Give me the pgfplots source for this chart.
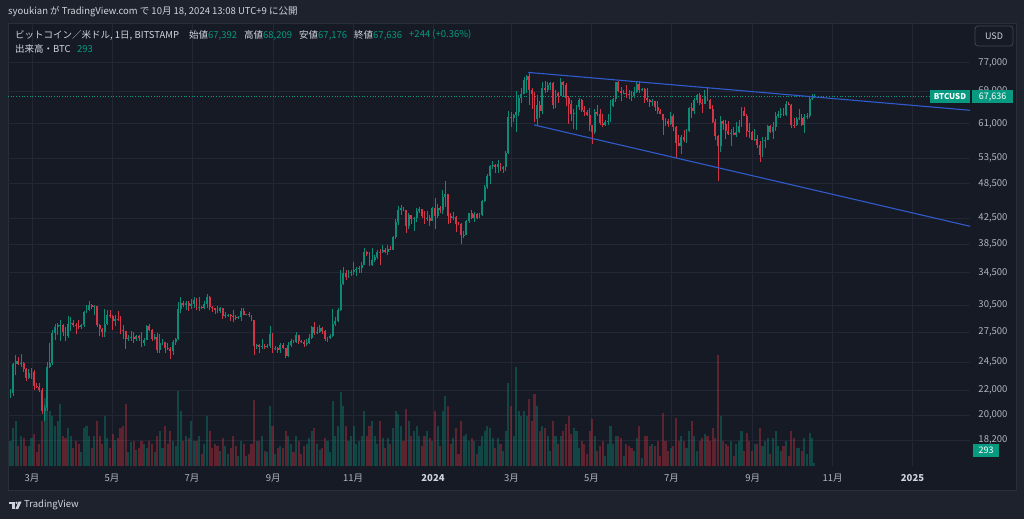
\documentclass[border=0pt]{standalone}
\usepackage{pgfplots}
\pgfplotsset{compat=1.18}
\usepackage{pgfplotstable}
\usepackage{fontspec}
\setmainfont{Noto Sans CJK JP}

\definecolor{bgout}{HTML}{1E222D}
\definecolor{bgpane}{HTML}{161A25}
\definecolor{gridc}{HTML}{232735}
\definecolor{framec}{HTML}{2A2E39}
\definecolor{txt}{HTML}{D1D4DC}
\definecolor{tickc}{HTML}{B2B5BE}
\definecolor{upc}{HTML}{089981}
\definecolor{dnc}{HTML}{F23645}
\definecolor{candup}{HTML}{0C8C77}
\definecolor{canddn}{HTML}{D23448}
\definecolor{trend}{HTML}{2F5BCC}

% BTCUSD, 2-day candles (day 0 = 2023-01-01), prices in kUSD, volume in BTC
\pgfplotstableread{
d o h l c v
42 21.7 22.1 21.4 21.8 2500
44 21.8 24.4 21.5 24.3 3800
46 24.3 25.2 23.3 24.6 4500
48 24.6 25.0 24.2 24.3 2000
50 24.3 25.3 24.1 24.4 3000
52 24.4 24.5 23.6 23.9 2800
54 23.9 24.0 22.8 23.1 2000
56 23.1 23.9 23.0 23.5 2000
58 23.5 24.0 23.0 23.6 2800
60 23.6 23.8 22.0 22.4 3200
62 22.4 22.6 22.2 22.3 1400
64 22.3 22.6 21.9 22.0 2200
66 22.0 22.2 20.1 20.3 4500
68 20.3 20.8 19.6 20.6 6800
70 20.6 24.5 20.3 24.1 6000
72 24.1 26.4 24.0 24.4 5500
74 24.4 27.7 24.2 27.4 5000
76 27.4 28.4 26.7 28.0 4000
78 28.0 28.5 27.2 28.2 4500
80 28.2 28.8 26.6 28.3 6200
82 28.3 28.4 27.1 27.5 3000
84 27.5 28.0 26.6 27.1 2800
86 27.1 29.2 26.9 28.4 3800
88 28.4 29.1 27.6 28.5 3000
90 28.5 28.8 28.0 28.2 1800
92 28.2 28.5 27.3 28.1 2500
94 28.1 28.8 27.8 28.0 2200
96 28.0 28.4 27.8 28.3 1400
98 28.3 29.8 28.0 29.7 3800
100 29.7 30.5 29.6 29.9 4000
102 29.9 31.0 29.8 30.5 3000
104 30.5 30.6 30.0 30.3 1800
106 30.3 30.5 29.3 30.4 3000
108 30.4 30.4 28.0 28.2 4500
110 28.2 28.4 27.1 27.8 3000
112 27.8 27.9 27.0 27.5 2200
114 27.5 30.0 27.0 28.4 5000
116 28.4 29.9 28.3 29.3 2800
118 29.3 29.9 29.0 29.2 1800
120 29.2 29.3 27.7 28.7 3200
122 28.7 29.3 28.1 28.9 2600
124 28.9 29.8 28.7 28.8 2800
126 28.8 29.2 27.3 27.7 3800
128 27.7 28.3 26.8 27.6 4000
130 27.6 27.6 25.8 26.8 6200
132 26.8 27.2 26.6 26.9 1400
134 26.9 27.6 26.6 27.0 2400
136 27.0 27.5 26.4 26.8 2500
138 26.8 27.2 26.6 27.1 1600
140 27.1 27.2 26.6 26.9 1800
142 26.9 27.5 26.0 26.4 2500
144 26.4 26.9 26.1 26.7 2200
146 26.7 28.2 26.7 28.1 1800
148 28.1 28.4 27.6 27.7 2500
150 27.7 27.8 26.6 26.8 2200
152 26.8 27.3 26.7 27.0 1400
154 27.0 27.4 25.4 25.7 3000
156 25.7 27.3 25.4 26.4 3500
158 26.4 26.8 26.2 26.5 1800
160 26.5 26.5 25.4 25.9 4000
162 25.9 26.4 25.7 25.8 2200
164 25.8 26.0 24.8 25.6 3500
166 25.6 26.7 25.2 26.5 2500
168 26.5 26.9 26.2 26.8 2000
170 26.8 30.8 26.7 30.0 7500
172 30.0 31.4 29.6 30.7 5500
174 30.7 31.0 30.3 30.5 2500
176 30.5 31.0 29.9 30.7 3000
178 30.7 31.0 29.8 30.4 2800
180 30.4 31.2 30.0 30.6 4500
182 30.6 31.4 30.2 31.1 2500
184 31.1 31.3 29.9 30.2 2500
186 30.2 31.5 29.8 30.3 3000
188 30.3 30.4 30.0 30.2 1200
190 30.2 31.0 30.0 30.6 2200
192 30.6 31.8 30.2 31.4 5000
194 31.4 31.6 29.9 30.3 3500
196 30.3 30.4 29.7 30.1 1800
198 30.1 30.2 29.5 29.9 2200
200 29.9 30.4 29.6 29.8 2000
202 29.8 30.3 29.6 30.1 1500
204 30.1 30.1 28.9 29.2 2800
206 29.2 29.7 29.0 29.3 2000
208 29.3 29.5 29.1 29.4 1200
210 29.4 29.5 28.7 29.2 1800
212 29.2 29.9 28.6 29.1 3000
214 29.1 29.4 28.8 29.0 2000
216 29.0 29.2 28.9 29.1 1000
218 29.1 30.2 28.7 29.8 2500
220 29.8 30.1 29.3 29.4 2200
222 29.4 29.5 29.3 29.5 1000
224 29.5 29.7 29.1 29.3 1200
226 29.3 29.4 28.7 28.8 2200
228 28.8 28.8 25.2 26.1 6600
230 26.1 26.3 25.8 26.2 2500
232 26.2 26.3 25.4 26.0 2500
234 26.0 26.8 25.8 26.1 3000
236 26.1 26.3 25.8 26.0 1500
238 26.0 26.3 25.9 26.1 1400
240 26.1 28.1 25.9 27.3 6000
242 27.3 27.4 25.4 25.8 4000
244 25.8 26.1 25.7 25.9 1200
246 25.9 26.0 25.4 25.7 1800
248 25.7 26.4 25.4 26.2 2000
250 26.2 26.4 25.8 25.9 1800
252 25.9 25.9 24.9 25.1 3500
254 25.1 26.5 25.0 26.2 3000
256 26.2 26.8 26.0 26.6 2200
258 26.6 26.7 26.4 26.5 1400
260 26.5 27.5 26.4 27.2 3000
262 27.2 27.2 26.3 26.6 2500
264 26.6 26.7 26.4 26.5 1200
266 26.5 26.7 26.0 26.3 2000
268 26.3 26.8 26.1 26.4 2200
270 26.4 27.3 26.3 26.9 2800
272 26.9 28.1 26.8 28.0 3500
274 28.0 28.6 27.2 27.4 3800
276 27.4 28.0 27.3 27.5 2200
278 27.5 28.2 27.4 27.9 1600
280 27.9 28.0 27.3 27.6 1800
282 27.6 27.7 26.6 26.8 2800
284 26.8 27.0 26.5 26.9 2500
286 26.9 27.3 26.8 27.1 1400
288 27.1 30.0 27.0 28.4 6500
290 28.4 29.1 28.1 28.7 3000
292 28.7 30.2 28.6 29.9 4000
294 29.9 34.8 29.8 33.0 7400
296 33.0 35.2 32.9 34.5 6000
298 34.5 34.8 33.6 33.9 4000
300 33.9 34.8 33.8 34.5 2500
302 34.5 34.9 34.1 34.6 3000
304 34.6 35.9 34.2 34.9 4000
306 34.9 35.3 34.1 35.0 2200
308 35.0 35.4 34.5 35.1 2500
310 35.1 35.9 34.5 35.6 3000
312 35.6 37.9 35.5 37.3 5500
314 37.3 37.5 36.8 37.1 3000
316 37.1 37.4 35.4 35.5 4000
318 35.5 37.9 35.4 36.2 4500
320 36.2 36.9 35.9 36.6 3000
322 36.6 37.6 36.3 37.4 2200
324 37.4 37.8 35.6 37.3 4500
326 37.3 38.4 37.2 37.7 2800
328 37.7 37.9 37.2 37.4 1800
330 37.4 38.4 36.9 37.8 2800
332 37.8 38.2 37.6 37.7 2200
334 37.7 39.7 37.6 39.5 3800
336 39.5 42.4 39.3 41.9 5500
338 41.9 44.5 41.4 43.8 5200
340 43.8 44.7 43.0 44.2 4000
342 44.2 44.3 43.6 43.8 2500
344 43.8 43.8 40.2 41.3 5700
346 41.3 43.4 40.7 43.0 4500
348 43.0 43.0 41.6 42.3 3000
350 42.3 42.7 40.5 42.6 3500
352 42.6 44.2 41.9 43.7 4000
354 43.7 44.4 43.3 44.0 3000
356 44.0 44.0 42.6 42.8 2000
358 42.8 43.6 41.6 42.5 3000
360 42.5 43.7 42.1 42.6 3500
362 42.6 43.1 41.3 42.1 2800
364 42.1 44.3 42.0 44.2 2500
366 44.2 45.9 40.8 42.8 5500
368 42.8 44.8 42.6 44.2 4000
370 44.2 44.5 43.4 43.9 2000
372 43.9 47.3 43.2 46.1 5500
374 46.1 48.9 44.4 46.6 7000
376 46.6 46.7 41.5 42.8 6000
378 42.8 43.3 41.7 42.5 2200
380 42.5 43.5 42.2 42.7 2800
382 42.7 42.9 40.3 41.6 3800
384 41.6 41.9 41.4 41.5 1200
386 41.5 41.7 38.5 39.8 4500
388 39.8 40.5 39.4 39.9 3000
390 39.9 42.2 39.8 42.1 3200
392 42.1 43.3 41.8 43.3 2500
394 43.3 43.8 42.3 42.6 2800
396 42.6 43.5 41.9 43.2 2500
398 43.2 43.3 42.3 42.6 1200
400 42.6 43.4 42.5 43.1 2000
402 43.1 45.6 42.8 45.3 3000
404 45.3 48.2 45.2 47.8 3500
406 47.8 50.3 47.6 50.0 4000
408 50.0 52.0 48.4 51.8 3800
410 51.8 52.8 51.3 52.1 2800
412 52.1 52.3 50.6 51.6 1800
414 51.6 53.0 50.6 52.2 2800
416 52.2 52.4 50.9 51.3 2200
418 51.3 51.8 50.5 51.6 1500
420 51.6 54.9 50.9 54.5 3500
422 54.5 64.0 54.4 62.5 8300
424 62.5 63.7 60.3 62.4 6000
426 62.4 63.2 61.3 63.1 3000
428 63.1 69.2 59.0 63.8 9900
430 63.8 68.0 62.7 67.3 5500
432 67.3 70.0 66.0 68.4 5000
434 68.4 72.8 68.3 72.1 5500
436 72.1 73.6 68.6 73.1 5000
438 73.1 73.9 65.6 69.4 6700
440 69.4 70.0 64.6 68.4 4500
442 68.4 68.9 61.3 62.0 7200
444 62.0 68.1 60.8 65.5 6000
446 65.5 66.6 62.3 64.0 3500
448 64.0 71.6 63.2 69.9 4000
450 69.9 71.8 68.5 69.5 3800
452 69.5 71.6 68.8 70.7 3000
454 70.7 71.4 69.5 71.3 1500
456 71.3 71.4 64.5 65.5 4500
458 65.5 69.3 64.8 68.5 3000
460 68.5 68.8 66.0 67.9 2200
462 67.9 72.7 67.8 71.6 3000
464 71.6 71.8 67.6 70.6 3500
466 70.6 71.3 65.2 67.2 4200
468 67.2 67.9 60.9 65.7 5000
470 65.7 66.8 61.6 63.4 3200
472 63.4 64.4 59.7 63.5 3800
474 63.5 65.4 59.6 64.9 3500
476 64.9 67.2 64.2 66.8 1800
478 66.8 67.1 63.9 64.3 2500
480 64.3 65.2 62.8 63.8 2200
482 63.8 64.3 62.8 63.1 1200
484 63.1 64.7 59.2 60.6 3500
486 60.6 60.8 56.5 59.1 4700
488 59.1 64.5 58.6 63.9 3000
490 63.9 65.4 62.8 63.2 1500
492 63.2 64.4 60.8 61.2 2000
494 61.2 63.4 60.2 60.8 2500
496 60.8 61.8 60.5 61.5 1000
498 61.5 63.4 60.8 61.6 2200
500 61.6 66.7 61.3 65.2 4000
502 65.2 67.4 64.9 66.9 2200
504 66.9 71.5 66.3 71.4 3000
506 71.4 71.9 68.8 69.2 3000
508 69.2 70.1 66.4 68.6 2800
510 68.6 69.5 68.4 68.7 1000
512 68.7 70.6 67.3 68.4 2200
514 68.4 69.5 67.1 68.3 2000
516 68.3 69.0 66.6 67.8 1800
518 67.8 70.3 67.4 68.9 1500
520 68.9 71.7 68.5 71.1 2800
522 71.1 71.9 68.6 69.3 4000
524 69.3 69.8 69.2 69.6 800
526 69.6 70.0 66.1 67.3 3000
528 67.3 69.9 66.3 66.8 3000
530 66.8 67.0 65.1 66.2 2000
532 66.2 67.0 65.2 66.5 2200
534 66.5 66.6 64.1 65.0 2000
536 65.0 66.5 63.4 64.1 2500
538 64.1 64.5 63.2 63.2 1000
540 63.2 63.4 58.5 61.8 5300
542 61.8 62.3 60.5 61.6 2500
544 61.6 62.2 60.2 60.9 1500
546 60.9 63.8 60.8 62.8 1800
548 62.8 63.3 59.4 60.2 2000
550 60.2 60.5 53.5 56.6 4800
552 56.6 58.5 55.9 55.9 2500
554 55.9 58.3 54.3 57.9 3000
556 57.9 59.5 56.8 57.3 2500
558 57.3 59.8 56.6 59.2 1800
560 59.2 64.9 59.1 64.8 3500
562 64.8 66.0 62.4 64.1 4500
564 64.1 67.4 63.3 66.7 3000
566 66.7 68.3 65.9 68.1 1500
568 68.1 68.5 65.6 65.9 2500
570 65.9 67.1 63.5 65.8 2800
572 65.8 69.4 65.7 67.8 3200
574 67.8 70.0 66.5 66.8 3000
576 66.8 66.9 64.5 64.6 2500
578 64.6 65.6 61.1 61.4 3800
580 61.4 62.1 57.2 58.1 2800
582 58.1 58.3 49.0 56.0 11100
584 56.0 62.7 54.7 61.7 5000
586 61.7 61.8 59.6 60.9 2500
588 60.9 61.8 57.6 59.3 2200
590 59.3 61.6 58.4 58.7 2000
592 58.7 59.8 56.1 58.9 2500
594 58.9 60.2 58.3 58.4 1000
596 58.4 61.4 57.9 59.0 2200
598 59.0 61.8 58.8 60.4 2500
600 60.4 64.9 60.3 64.1 3500
602 64.1 65.0 62.7 62.8 1500
604 62.8 63.2 57.9 59.4 3300
606 59.4 61.2 57.8 59.1 2500
608 59.1 59.4 57.2 57.3 1500
610 57.3 59.8 57.1 57.5 2200
612 57.5 58.5 55.6 56.2 2200
614 56.2 57.0 52.6 54.1 3800
616 54.1 58.0 53.6 57.0 2000
618 57.0 58.0 55.5 57.3 2500
620 57.3 60.7 57.2 60.5 2800
622 60.5 60.6 58.8 59.1 1200
624 59.1 61.3 57.5 60.3 2800
626 60.3 63.9 59.3 62.9 3500
628 62.9 64.1 62.4 63.3 2000
630 63.3 64.8 62.4 63.4 1500
632 63.4 64.8 62.7 63.1 2000
634 63.1 66.5 62.7 65.8 2500
636 65.8 66.2 65.4 65.6 1000
638 65.6 65.7 60.1 60.8 3500
640 60.8 62.4 59.9 60.7 2800
642 60.7 62.5 60.5 62.1 1800
644 62.1 64.5 61.9 62.3 1800
646 62.3 63.2 60.5 60.6 1500
648 60.6 63.4 58.9 62.5 2800
650 62.5 63.5 62.0 62.8 1200
652 62.8 67.9 62.4 67.0 3300
654 67.0 68.4 66.7 67.4 2800
655.5 67.392 68.209 67.176 67.636 293
}\btc

% drawn trend lines (day, kUSD)
\pgfplotstableread{
d p
437.7 74.2
775 64.2
}\upline
\pgfplotstableread{
d p
442.1 60.7
775 41.2
}\lowline
\pgfplotstableread{
d p
40.6 67.636
774.9 67.636
}\lastline

\pgfplotsset{
  base/.style={scale only axis, width=962pt, height=443pt,
    at={(8pt,53pt)}, anchor=south west, xmin=40.6, xmax=774.9},
  price/.style={base, ymin=2.8021, ymax=4.4956},
  upsel/.style={/pgfplots/table/x expr={\thisrow{c}>=\thisrow{o} ? \thisrow{d}+0.5 : nan}},
  dnsel/.style={/pgfplots/table/x expr={\thisrow{c}<\thisrow{o} ? \thisrow{d}+0.5 : nan}},
}

\begin{document}
\begin{tikzpicture}[x=1pt,y=1pt]
\useasboundingbox (0,0) rectangle (1024,519);
\fill[bgout] (0,0) rectangle (1024,519);
\fill[bgpane] (8,29) rectangle (1016,496);
\draw[framec, line width=0.8pt] (8,29) rectangle (1016,496);

% grid and tick labels
\begin{axis}[price,
  axis line style={draw=none}, major tick length=0pt,
  xtick={59,120,181,243,304,365,425,486,547,609,670,731},
  xticklabels={3月,5月,7月,9月,11月,\textcolor{txt}{\bfseries 2024},3月,5月,7月,9月,11月,\textcolor{txt}{\bfseries 2025}},
  ytick={2.9014,2.9957,3.0910,3.1987,3.3142,3.4177,3.5410,3.6507,3.7495,3.8816,3.9797,4.1109,4.2341,4.3438},
  yticklabels={{18,200},{20,000},{22,000},{24,500},{27,500},{30,500},{34,500},{38,500},{42,500},{48,500},{53,500},{61,000},{69,000},{77,000}},
  yticklabel pos=right,
  grid=major, major grid style={gridc, line width=0.7pt},
  ticklabel style={font=\fontsize{9.5}{10}\selectfont, text=tickc},
  yticklabel style={anchor=east, xshift=41pt},
  xticklabel style={yshift=-4.5pt},
]
\end{axis}

% volume
\begin{axis}[base, ymin=0, ymax=44300, hide axis]
\addplot[ycomb, mark=none, upc, opacity=0.35, line width=2.1pt] table[upsel, y=v] {\btc};
\addplot[ycomb, mark=none, dnc, opacity=0.33, line width=2.1pt] table[dnsel, y=v] {\btc};
\end{axis}

% candles, log price
\begin{axis}[price, hide axis]
\addplot[upc, dotted, line width=0.7pt] table[y expr={ln(\thisrow{p})}] {\lastline};
\addplot[draw=none, mark=none, error bars/.cd, y dir=plus, y explicit, error mark=none,
  error bar style={draw=candup, line width=0.7pt}]
  table[upsel, y expr={ln(\thisrow{l})}, y error plus expr={ln(\thisrow{h})-ln(\thisrow{l})}] {\btc};
\addplot[draw=none, mark=none, error bars/.cd, y dir=plus, y explicit, error mark=none,
  error bar style={draw=candup, line width=1.9pt}]
  table[upsel, y expr={ln(\thisrow{o})}, y error plus expr={ln(\thisrow{c})-ln(\thisrow{o})}] {\btc};
\addplot[draw=none, mark=none, error bars/.cd, y dir=plus, y explicit, error mark=none,
  error bar style={draw=canddn, line width=0.7pt}]
  table[dnsel, y expr={ln(\thisrow{l})}, y error plus expr={ln(\thisrow{h})-ln(\thisrow{l})}] {\btc};
\addplot[draw=none, mark=none, error bars/.cd, y dir=plus, y explicit, error mark=none,
  error bar style={draw=canddn, line width=1.9pt}]
  table[dnsel, y expr={ln(\thisrow{c})}, y error plus expr={ln(\thisrow{o})-ln(\thisrow{c})}] {\btc};
\addplot[trend, line width=1.1pt] table[y expr={ln(\thisrow{p})}] {\upline};
\addplot[trend, line width=1.1pt] table[y expr={ln(\thisrow{p})}] {\lowline};
\end{axis}

% header texts
\begin{scope}[every node/.style={anchor=west, inner sep=0pt, text=txt, font=\fontsize{9.5}{11}\selectfont}]
\node at (8,507) {syoukian が TradingView.com で 10月 18, 2024 13:08 UTC+9 に公開};
\node at (15,484) {ビットコイン／米ドル, 1日, BITSTAMP};
\node at (189,484) {始値\textcolor{upc}{67,392}};
\node at (244,484) {高値\textcolor{upc}{68,209}};
\node at (299,484) {安値\textcolor{upc}{67,176}};
\node at (354,484) {終値\textcolor{upc}{67,636}};
\node at (409,484) {\textcolor{upc}{+244 (+0.36\%)}};
\node at (15,470) {出来高・BTC};
\node at (77,470) {\textcolor{upc}{293}};
\end{scope}

% price scale boxes
\draw[color={rgb,255:red,67;green,70;blue,81}, line width=0.8pt, rounded corners=3pt] (975,473) rectangle (1013,493);
\node[text=txt, font=\fontsize{9}{10}\selectfont] at (994,483) {USD};
\fill[upc] (930,416) rectangle (970,429);
\node[text=white, font=\fontsize{8}{9}\selectfont\bfseries] at (950,422.4) {BTCUSD};
\fill[upc] (972,416) rectangle (1013,429);
\node[text=white, font=\fontsize{9}{10}\selectfont] at (992.5,422.4) {67,636};
\fill[upc] (973,62) rectangle (999,75);
\node[text=white, font=\fontsize{9}{10}\selectfont] at (986,68.5) {293};

% footer logo
\fill[txt] (9,17.5) rectangle (14.8,15.3);
\fill[txt] (12.2,15.3) rectangle (14.8,10);
\fill[txt] (16.6,16.2) circle (1.2);
\fill[txt] (18.6,17.5) -- (21.6,17.5) -- (18.2,10) -- (15.4,10) -- cycle;
\node[anchor=west, inner sep=0pt, text=txt, font=\fontsize{9.5}{11}\selectfont] at (24,13.8) {TradingView};
\end{tikzpicture}
\end{document}
